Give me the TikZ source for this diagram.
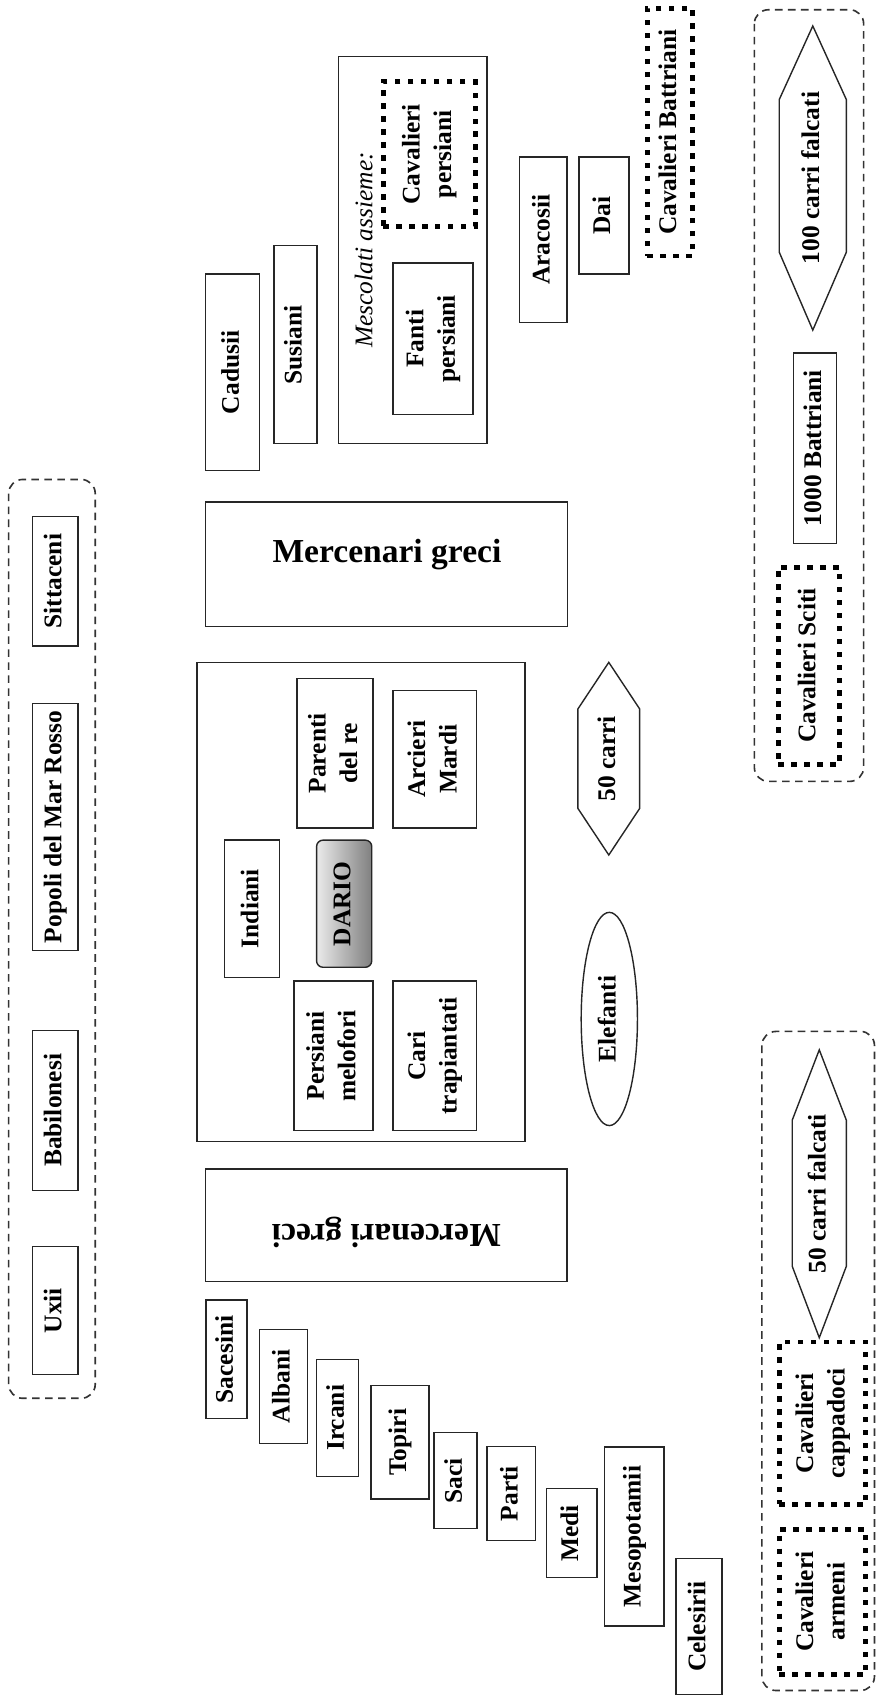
\documentclass[tikz,border=0pt]{standalone}
\usepackage{fontspec}
\setmainfont{Liberation Serif}
\usetikzlibrary{shapes.geometric}
\newcommand\rt[1]{\rotatebox{90}{\begin{tabular}{@{}c@{}}#1\end{tabular}}}
\begin{document}
\begin{tikzpicture}[x=1pt,y=-1pt,
  every node/.style={font=\bfseries\fontsize{23.5}{29}\selectfont, inner sep=0pt, outer sep=0pt},
  box/.style={draw=black!85, line width=1.3pt},
  dotbox/.style={draw=black, line width=4.5pt, dash pattern=on 5pt off 7pt},
  group/.style={draw=black!80, line width=1.5pt, dash pattern=on 7pt off 5pt, rounded corners=13pt},
  hexa/.style={draw=black!85, line width=1.3pt, line join=miter}
]
\useasboundingbox (0,0) rectangle (810,1568);

% left group
\draw[group] (8,443) rectangle (88,1292);
\node[box, minimum width=42pt, minimum height=120pt] (sitt) at (51,537) {\rt{Sittaceni}};
\node[box, minimum width=42pt, minimum height=228pt] (popoli) at (51,764) {\rt{Popoli del Mar Rosso}};
\node[box, minimum width=42pt, minimum height=148pt] (babil) at (51,1026) {\rt{Babilonesi}};
\node[box, minimum width=42pt, minimum height=118pt] (uxii) at (51,1211) {\rt{Uxii}};

% top column
\node[box, minimum width=50pt, minimum height=182pt] (cadusii) at (215,344) {\rt{Cadusii}};
\node[box, minimum width=40pt, minimum height=183pt] (susiani) at (273,318.5) {\rt{Susiani}};
\node[box, minimum width=137pt, minimum height=358pt] (mesc) at (381.5,231) {};
\node[font=\normalfont\itshape\fontsize{23.5}{28}\selectfont] (mesct) at (336,231) {\rotatebox{90}{Mescolati assieme:}};
\node[dotbox, minimum width=85pt, minimum height=134pt] (cavpers) at (396.5,142.5) {\rt{Cavalieri\\persiani}};
\node[box, minimum width=74pt, minimum height=140pt] (fanti) at (400,313) {\rt{Fanti\\persiani}};
\node[box, minimum width=44pt, minimum height=153pt] (aracosii) at (502,221.5) {\rt{Aracosii}};
\node[box, minimum width=46pt, minimum height=108pt] (dai) at (558,199) {\rt{Dai}};
\node[dotbox, minimum width=42pt, minimum height=229pt] (cavbatt) at (619,122) {\rt{Cavalieri Battriani}};

% top right group
\draw[group] (697,9) rectangle (798,722);
\draw[hexa] (751,24) -- (782,92) -- (782,233) -- (751,305) -- (720,233) -- (720,92) -- cycle;
\node (c100) at (751,164.5) {\rt{100 carri falcati}};
\node[box, minimum width=40pt, minimum height=176pt] (batt1000) at (753,414) {\rt{1000 Battriani}};
\node[dotbox, minimum width=57pt, minimum height=182pt] (sciti) at (747.5,615) {\rt{Cavalieri Sciti}};

% mercenari greci
\node[box, minimum width=334.6pt, minimum height=115pt] (merc1) at (357,521.5) {};
\node[font=\bfseries\fontsize{31}{36}\selectfont, anchor=base] (merc1t) at (357.5,520) {Mercenari greci};
\node[box, minimum width=334pt, minimum height=104pt] (merc2) at (357,1132) {};
\node[font=\bfseries\fontsize{31}{36}\selectfont, anchor=base, rotate=180] (merc2t) at (357,1131) {Mercenari greci};

% centre
\node[box, minimum width=303pt, minimum height=442.5pt] (centre) at (333.5,833.25) {};
\node[box, minimum width=70pt, minimum height=138pt] (parenti) at (309.6,696) {\rt{Parenti\\del re}};
\node[box, minimum width=77pt, minimum height=127pt] (mardi) at (401.5,701.5) {\rt{Arcieri\\Mardi}};
\node[box, minimum width=50.6pt, minimum height=127pt] (indiani) at (233,839.5) {\rt{Indiani}};
\node[box, rounded corners=6pt, left color=white!92!black, right color=black!50, minimum width=51pt, minimum height=117.5pt] (dario) at (318,835) {\rt{DARIO}};
\node[box, minimum width=73pt, minimum height=138pt] (melofori) at (308,975.6) {\rt{Persiani\\melofori}};
\node[box, minimum width=77pt, minimum height=138pt] (cari) at (401.5,975.6) {\rt{Cari\\trapiantati}};

% 50 carri and elefanti
\draw[hexa] (562.5,612) -- (591,655) -- (591,747) -- (562.5,790) -- (534,747) -- (534,655) -- cycle;
\node (c50) at (562.5,701) {\rt{50 carri}};
\node[box, ellipse, minimum width=52pt, minimum height=197pt] (elef) at (563,941.5) {\rt{Elefanti}};

% staircase
\node[box, minimum width=38pt, minimum height=109.6pt] (sacesini) at (209.4,1256) {\rt{Sacesini}};
\node[box, minimum width=44.4pt, minimum height=105.6pt] (albani) at (261.7,1281) {\rt{Albani}};
\node[box, minimum width=39pt, minimum height=108pt] (ircani) at (312,1310) {\rt{Ircani}};
\node[box, minimum width=53.5pt, minimum height=105pt] (topiri) at (369.5,1332.7) {\rt{Topiri}};
\node[box, minimum width=39.7pt, minimum height=89pt] (saci) at (421,1368) {\rt{Saci}};
\node[box, minimum width=44.7pt, minimum height=87pt] (parti) at (472.5,1380) {\rt{Parti}};
\node[box, minimum width=46.8pt, minimum height=82.2pt] (medi) at (528.3,1416.7) {\rt{Medi}};
\node[box, minimum width=54.8pt, minimum height=165.4pt] (mesop) at (586.2,1419.7) {\rt{Mesopotamii}};
\node[box, minimum width=42.5pt, minimum height=125.5pt] (celes) at (646,1503) {\rt{Celesirii}};

% bottom right group
\draw[group] (704,953) rectangle (808,1562);
\draw[hexa] (757,970) -- (782,1035) -- (782,1170) -- (757,1236) -- (732,1170) -- (732,1035) -- cycle;
\node (c50f) at (757,1103) {\rt{50 carri falcati}};
\node[dotbox, minimum width=80pt, minimum height=150pt] (cappad) at (760,1315) {\rt{Cavalieri\\cappadoci}};
\node[dotbox, minimum width=80pt, minimum height=134pt] (armeni) at (760,1480) {\rt{Cavalieri\\armeni}};
\end{tikzpicture}
\end{document}
